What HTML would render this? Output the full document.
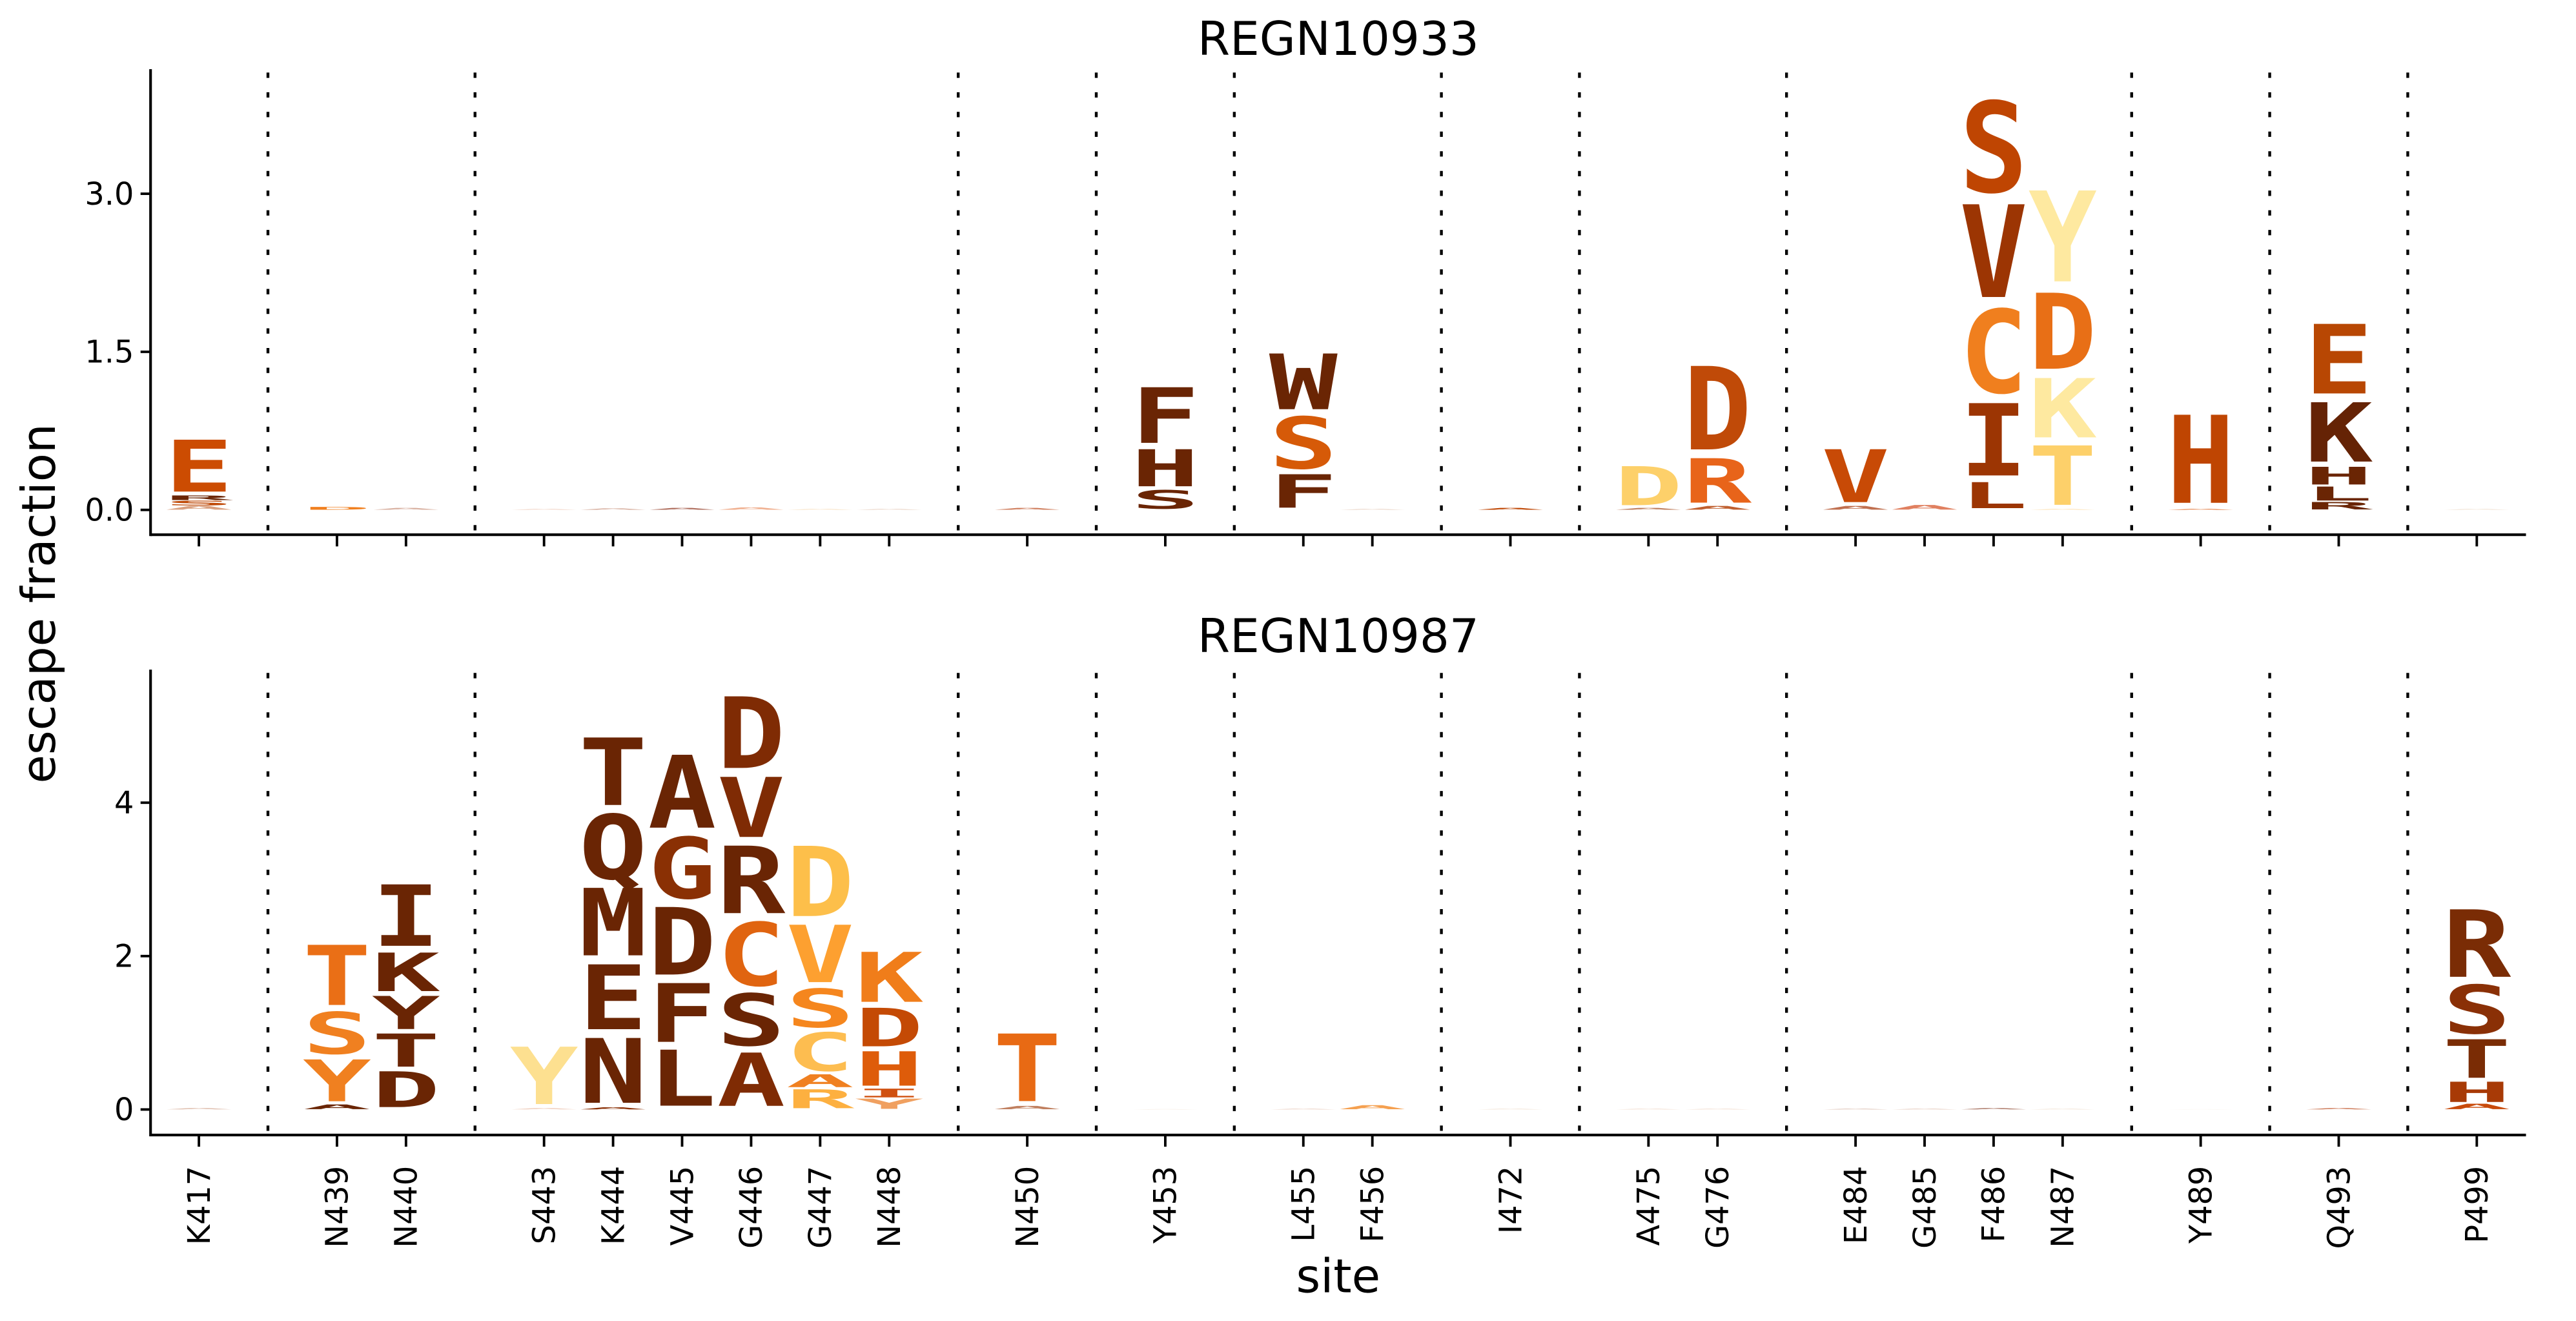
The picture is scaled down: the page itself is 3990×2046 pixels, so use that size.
<!DOCTYPE html>
<html><head><meta charset="utf-8"><title>Escape logo plot</title>
<style>html,body{margin:0;padding:0;background:#fff}svg{display:block}</style></head>
<body>
<svg id="chart" xmlns="http://www.w3.org/2000/svg" width="3990" height="2046" viewBox="0 0 1545 792.25" font-family="'DejaVu Sans','Liberation Sans',sans-serif"></svg>
<script>
// ---- data ----
const siteGroups = [["K417"],["N439","N440"],["S443","K444","V445","G446","G447","N448"],["N450"],["Y453"],["L455","F456"],["I472"],["A475","G476"],["E484","G485","F486","N487"],["Y489"],["Q493"],["P499"]];
const panelTitles = ["REGN10933","REGN10987"];
const topTicks = [0.0, 1.5, 3.0];
const topTickLabels = ["0.0","1.5","3.0"];
const botTicks = [0, 2, 4];
const botTickLabels = ["0","2","4"];
// letters listed bottom -> top, with values (escape fraction) and colors
const topLetters = {
 K417:["A","S","R","E"], N439:["D"], N440:["A"], S443:["A"], K444:["A"], V445:["A"], G446:["A"], G447:["A"], N448:["A"],
 N450:["A"], Y453:["S","H","F"], L455:["F","S","W"], F456:["A"], I472:["A"], A475:["A","D"], G476:["A","R","D"],
 E484:["A","V"], G485:["A"], F486:["L","I","C","V","S"], N487:["A","T","K","D","Y"], Y489:["A","H"], Q493:["R","L","H","K","E"], P499:["A"]};
const topValues = {
 K417:[0.04,0.05,0.05,0.56], N439:[0.03], N440:[0.02], S443:[0.01], K444:[0.015], V445:[0.02], G446:[0.025], G447:[0.01], N448:[0.01],
 N450:[0.02], Y453:[0.2,0.4,0.6], L455:[0.36,0.56,0.6], F456:[0.01], I472:[0.02], A475:[0.02,0.42], G476:[0.04,0.48,0.9],
 E484:[0.04,0.57], G485:[0.05], F486:[0.28,0.78,0.9,1.0,0.98], N487:[0.01,0.64,0.64,0.82,0.98], Y489:[0.01,0.95], Q493:[0.08,0.15,0.19,0.64,0.75], P499:[0.01]};
const topColors = {
 K417:["#d9a080","#c04a08","#6a2504","#cc4c02"], N439:["#f07f1e"], N440:["#d8b0a0"], S443:["#f0d0c0"], K444:["#d8b0a0"], V445:["#b07060"], G446:["#f0b090"], G447:["#f8e0c0"], N448:["#e8d0c0"],
 N450:["#d08060"], Y453:["#6a2504","#6a2504","#6a2504"], L455:["#6a2504","#d65a08","#6a2504"], F456:["#e8d0c0"], I472:["#c04a08"], A475:["#c08060","#fdd06a"], G476:["#c06030","#e8641a","#c04a08"],
 E484:["#c07050","#c84a06"], G485:["#e08060"], F486:["#9c3503","#9c3503","#f07f1e","#9c3503","#bf4502"], N487:["#fde0b0","#fdd06a","#fee9a0","#e86f16","#fee9a0"], Y489:["#e07030","#bf4502"], Q493:["#6a2504","#6a2504","#6a2504","#652305","#b84703"], P499:["#f0e0d0"]};
const botLetters = {
 K417:["A"], N439:["A","Y","S","T"], N440:["D","T","Y","K","I"], S443:["A","Y"], K444:["A","N","E","M","Q","T"], V445:["L","F","D","G","A"],
 G446:["A","S","C","R","V","D"], G447:["R","A","C","S","V","D"], N448:["Y","I","H","D","K"], N450:["A","T"], Y453:["A"], L455:["A"], F456:["A"],
 I472:["A"], A475:["A"], G476:["A"], E484:["A"], G485:["A"], F486:["A"], N487:["A"], Y489:["A"], Q493:["A"], P499:["A","H","T","S","R"]};
const botValues = {
 K417:[0.02], N439:[0.07,0.62,0.62,0.89], N440:[0.53,0.49,0.49,0.57,0.91], S443:[0.02,0.85], K444:[0.03,0.96,0.96,1.0,0.96,1.0], V445:[0.83,0.87,1.0,0.91,1.08],
 G446:[0.79,0.77,0.94,1.0,0.89,1.06], G447:[0.28,0.19,0.57,0.57,0.85,1.04], N448:[0.15,0.13,0.51,0.57,0.74], N450:[0.05,1.0], Y453:[0.005], L455:[0.01], F456:[0.06],
 I472:[0.01], A475:[0.01], G476:[0.01], E484:[0.01], G485:[0.01], F486:[0.02], N487:[0.01], Y489:[0.005], Q493:[0.02], P499:[0.08,0.3,0.57,0.72,1.0]};
const botColors = {
 K417:["#e0c0b0"], N439:["#6a2504","#f08020","#f08020","#ea6f16"], N440:["#6a2504","#6a2504","#6a2504","#6a2504","#6a2504"], S443:["#f0d0c0","#fde090"], K444:["#8a3006","#6a2504","#6a2504","#6a2504","#6a2504","#6a2504"], V445:["#6a2504","#6a2504","#6a2504","#8a3004","#6a2504"],
 G446:["#7f2b04","#6a2504","#e06410","#6a2504","#7f2b04","#7f2b04"], G447:["#fdb040","#f08020","#fdbd50","#f5861e","#fda030","#fdbf4a"], N448:["#f0a060","#d05010","#de5c0a","#c44a05","#f07d1a"], N450:["#c08060","#e86a14"], Y453:["#f0e0d0"], L455:["#e8c8b8"], F456:["#f5a050"],
 I472:["#f0e0d0"], A475:["#f0d8c8"], G476:["#f0d8c8"], E484:["#d8b8a8"], G485:["#e0c0b0"], F486:["#b08070"], N487:["#f0e0d0"], Y489:["#f8f0e8"], Q493:["#d08060"], P499:["#c84a0a","#a83a06","#7a2c05","#8a3006","#7a2c05"]};

// ---- layout ----
const NS = "http://www.w3.org/2000/svg";
const svg = document.getElementById("chart");
const X0 = 90.3, X1 = 1515, SLOT0 = 119.3, SLOTW = 41.4, LW = 41;
const panels = [
 {title:panelTitles[0], zero:305.8, ppu:63.2, top:41.5, bottom:320.7, titleY:33, ticks:topTicks, tickLabels:topTickLabels, letters:topLetters, values:topValues, colors:topColors, name:"top"},
 {title:panelTitles[1], zero:665.4, ppu:46.0, top:401.6, bottom:680.7, titleY:391, ticks:botTicks, tickLabels:botTickLabels, letters:botLetters, values:botValues, colors:botColors, name:"bottom"}
];
function mk(tag, attrs){const e=document.createElementNS(NS,tag);for(const k in attrs)e.setAttribute(k,attrs[k]);return e;}

const siteSlot = {}; const dividers = [];
let s = 0;
siteGroups.forEach((g,gi)=>{ if(gi>0){dividers.push(s); s++;} g.forEach(site=>{siteSlot[site]=s; s++;}); });
const xOf = slot => SLOT0 + slot*SLOTW;

panels.forEach((p,pi)=>{
  const yOf = v => p.zero - v*p.ppu;
  const g = mk("g",{});
  
  
  svg.appendChild(g);
  const t = mk("text",{x:(X0+X1)/2, y:p.titleY, "font-size":28, "text-anchor":"middle", fill:"#000"});
  
  
  t.textContent = p.title; g.appendChild(t);
  dividers.forEach(d=>{
    const x = xOf(d);
    const l = mk("line",{x1:x,x2:x,y1:p.top+2,y2:p.bottom,stroke:"#000","stroke-width":1.7,"stroke-dasharray":"3.2 8.6"});
    
    
    g.appendChild(l);
  });
  Object.keys(p.letters).forEach(site=>{
    const cx = xOf(siteSlot[site]);
    let acc = 0;
    p.letters[site].forEach((ch,i)=>{
      const v = p.values[site][i];
      const slotBottom = yOf(acc), slotTop = yOf(acc+v);
      acc += v;
      const h = (slotBottom-slotTop)*0.88;
      const yb = slotBottom - (slotBottom-slotTop)*0.06;
      if(h<=0.05) return;
      const tx = mk("text",{x:0,y:0,"font-size":100,"font-weight":"bold","font-family":"'DejaVu Sans Mono','Liberation Mono',monospace",textLength:LW,lengthAdjust:"spacingAndGlyphs",fill:p.colors[site][i],
        transform:`translate(${cx-LW/2},${yb}) scale(1,${h/72.9})`});
      
      
      tx.textContent = ch; g.appendChild(tx);
    });
  });
  const ys = mk("line",{x1:X0,x2:X0,y1:p.top,y2:p.bottom+0.8,stroke:"#000","stroke-width":1.6});
  
  
  g.appendChild(ys);
  const xs = mk("line",{x1:X0,x2:X1,y1:p.bottom,y2:p.bottom,stroke:"#000","stroke-width":1.6});
  
  
  g.appendChild(xs);
  p.ticks.forEach((v,i)=>{
    const y = yOf(v);
    const tk = mk("line",{x1:X0-6,x2:X0,y1:y,y2:y,stroke:"#000","stroke-width":1.5});
    
    
    g.appendChild(tk);
    const lb = mk("text",{x:X0-10,y:y+6.5,"font-size":18.5,"text-anchor":"end",fill:"#000"});
    
    
    lb.textContent = p.tickLabels[i]; g.appendChild(lb);
  });
  Object.keys(siteSlot).forEach(site=>{
    const x = xOf(siteSlot[site]);
    const tk = mk("line",{x1:x,x2:x,y1:p.bottom,y2:p.bottom+7,stroke:"#000","stroke-width":1.5});
    
    
    g.appendChild(tk);
    if(pi===1){
      const lb = mk("text",{x:0,y:0,"font-size":18.5,"text-anchor":"end",fill:"#000",transform:`translate(${x+6.5},${p.bottom+18.5}) rotate(-90)`});
      
      
      lb.textContent = site; g.appendChild(lb);
    }
  });
});
const xl = mk("text",{x:(X0+X1)/2,y:775,"font-size":28,"text-anchor":"middle",fill:"#000"});


xl.textContent = "site"; svg.appendChild(xl);
const yl = mk("text",{x:0,y:0,"font-size":28,"text-anchor":"middle",fill:"#000",transform:"translate(33,362) rotate(-90)"});


yl.textContent = "escape fraction"; svg.appendChild(yl);
</script>
</body></html>
